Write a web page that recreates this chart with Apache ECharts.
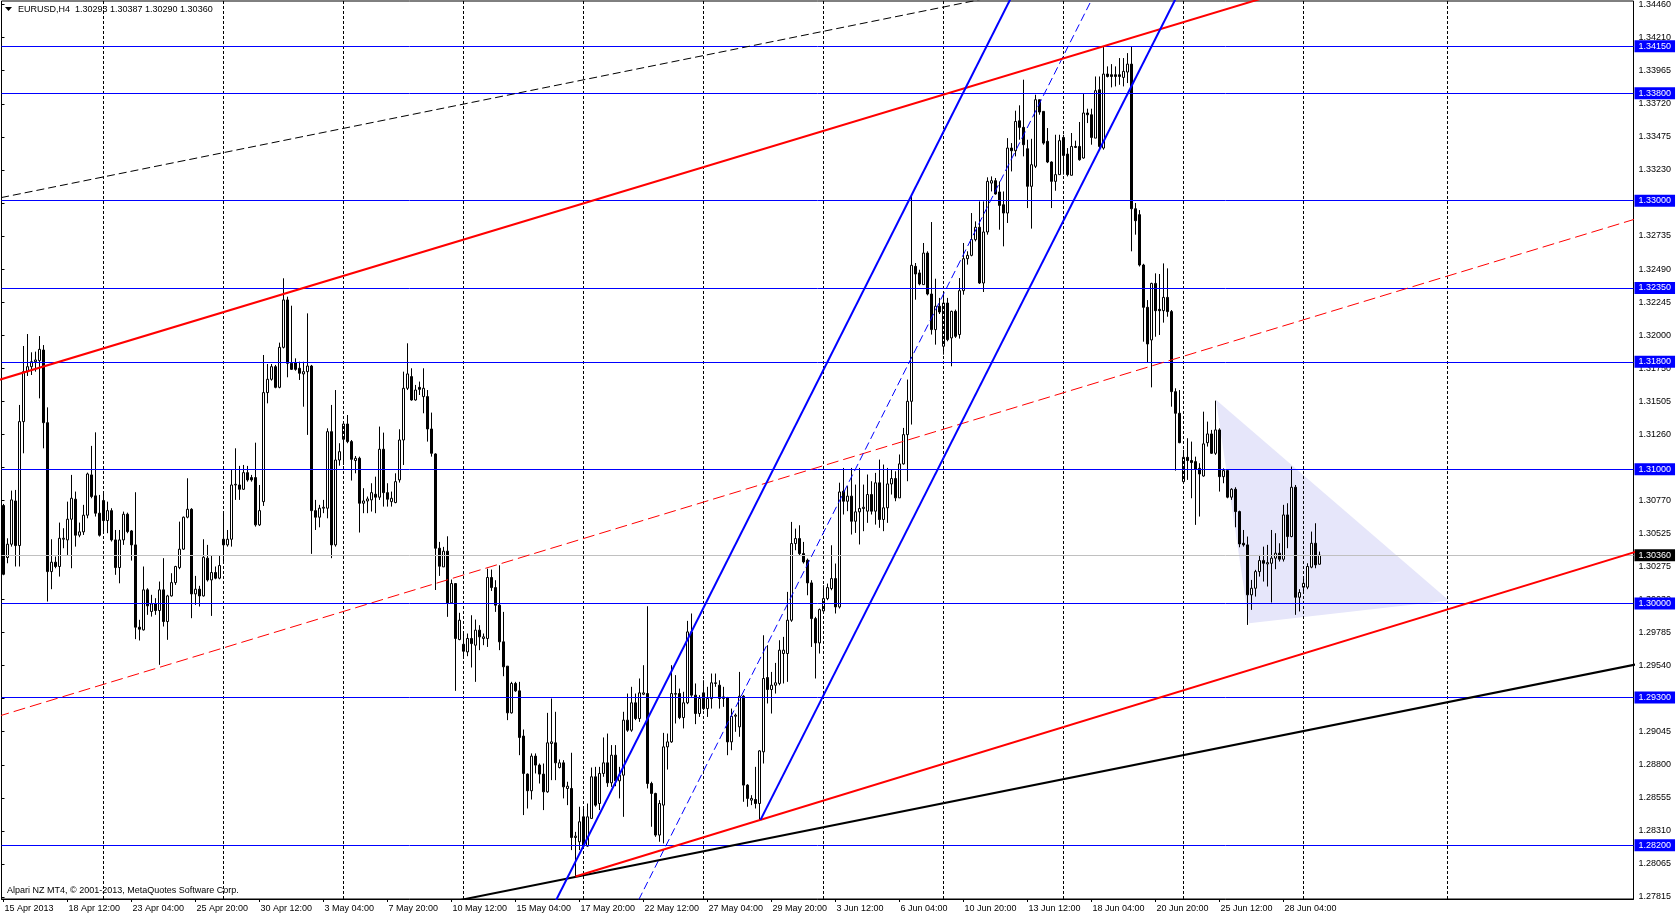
<!DOCTYPE html>
<html><head><meta charset="utf-8">
<script src="https://cdn.jsdelivr.net/npm/echarts@6/dist/echarts.min.js"></script>
<style>html,body{margin:0;padding:0;background:#fff;overflow:hidden}#c{width:1676px;height:917px}</style>
</head><body><div id="c"></div>
<script>
// ---------- data ----------
const symbolName = 'EURUSD,H4';
const copyrightText = 'Alpari NZ MT4, \u00a9 2001-2013, MetaQuotes Software Corp.';

const opens = [
1.30730,1.30343,1.30442,1.30764,1.30432,1.31355,1.31727,1.31764,1.31801,1.31809,
1.31888,1.31347,1.30238,1.30308,1.30276,1.30479,1.30474,1.30628,1.30777,1.30509,
1.30534,1.30658,1.30958,1.30802,1.30673,1.30767,1.30618,1.30692,1.30474,1.30268,
1.30474,1.30665,1.30541,1.30437,1.29824,1.29804,1.30102,1.29941,1.29998,1.29948,
1.30102,1.29866,1.30057,1.30156,1.30268,1.30405,1.30643,1.30702,1.30072,1.30107,
1.30057,1.30338,1.30176,1.30231,1.30189,1.30479,1.30437,1.30479,1.30883,1.30883,
1.30851,1.30975,1.30938,1.30938,1.30586,1.30759,1.31571,1.31670,1.31764,1.31610,
1.31908,1.32261,1.31789,1.31794,1.31752,1.31710,1.31727,1.31769,1.30692,1.30643,
1.30710,1.30710,1.31280,1.30437,1.31069,1.31223,1.31337,1.31206,1.31065,1.31082,
1.30747,1.30764,1.30772,1.30814,1.30792,1.31149,1.30826,1.30759,1.30752,1.30921,
1.31218,1.31603,1.31690,1.31516,1.31610,1.31541,1.31541,1.31300,1.31114,1.30412,
1.30273,1.30390,1.30005,1.30149,1.29732,1.29697,1.29640,1.29740,1.29690,1.29802,
1.29740,1.29740,1.30194,1.30119,1.29988,1.29715,1.29534,1.29186,1.29405,1.29350,
1.29013,1.28730,1.28606,1.28864,1.28797,1.28730,1.28598,1.28958,1.28963,1.28779,
1.28814,1.28623,1.28623,1.28258,1.28226,1.28412,1.28194,1.28400,1.28710,1.28511,
1.28735,1.28814,1.28665,1.28871,1.28680,1.28722,1.29132,1.29057,1.29261,1.29144,
1.29325,1.29330,1.28660,1.28586,1.28276,1.28499,1.28933,1.28970,1.29325,1.29330,
1.29151,1.29261,1.29789,1.29318,1.29181,1.29335,1.29218,1.29293,1.29405,1.29392,
1.29293,1.29300,1.28970,1.29161,1.29082,1.29310,1.28648,1.28536,1.28541,1.28511,
1.28896,1.29449,1.29360,1.29392,1.29405,1.29628,1.29628,1.29876,1.30447,1.30484,
1.30372,1.30323,1.30154,1.29888,1.29707,1.29945,1.30037,1.30112,1.30186,1.29975,
1.30837,1.30762,1.30800,1.30613,1.30683,1.30708,1.30688,1.30812,1.30688,1.30899,
1.30626,1.30713,1.30891,1.30931,1.30787,1.31040,1.31258,1.31506,1.32511,1.32462,
1.32375,1.32610,1.32305,1.32040,1.32214,1.31916,1.32238,1.31978,1.32176,1.32003,
1.32330,1.32568,1.32593,1.32710,1.32802,1.32387,1.32767,1.33131,1.33149,1.33065,
1.32970,1.32908,1.33392,1.33372,1.33595,1.33546,1.33387,1.33107,1.33256,1.33752,
1.33665,1.33442,1.33288,1.33144,1.33194,1.33471,1.33347,1.33189,1.33404,1.33404,
1.33318,1.33653,1.33640,1.33466,1.33826,1.33392,1.33943,1.33938,1.33938,1.33938,
1.33918,1.33958,1.34017,1.32940,1.32896,1.32521,1.32206,1.31963,1.32384,1.32191,
1.32181,1.32280,1.32174,1.31578,1.31417,1.30908,1.31089,1.31065,1.31057,1.31007,
1.30950,1.31198,1.31263,1.31119,1.31293,1.30945,1.30990,1.30792,1.30851,1.30685,
1.30449,1.30437,1.30065,1.30114,1.30238,1.30320,1.30295,1.30300,1.30338,1.30375,
1.30330,1.30660,1.30499,1.30866,1.30047,1.30122,1.30122,1.30271,1.30449,1.30293
];
const highs = [
1.30742,1.30486,1.30841,1.30846,1.31479,1.31918,1.32007,1.31871,1.31876,1.31992,
1.31925,1.31461,1.30479,1.30350,1.30603,1.30561,1.30759,1.30958,1.30834,1.30603,
1.30735,1.30975,1.31174,1.31275,1.30809,1.30834,1.30759,1.30710,1.30548,1.30548,
1.30685,1.30677,1.30548,1.30829,1.29879,1.30276,1.30114,1.30065,1.30040,1.30164,
1.30338,1.30065,1.30226,1.30281,1.30610,1.30648,1.30933,1.30710,1.30206,1.30132,
1.30479,1.30437,1.30355,1.30276,1.30355,1.30673,1.30548,1.30995,1.31156,1.31025,
1.31032,1.31025,1.30958,1.31198,1.30883,1.31851,1.31784,1.31784,1.31777,1.31943,
1.32422,1.32285,1.32218,1.31826,1.31801,1.31801,1.32161,1.31777,1.30772,1.30735,
1.30772,1.31305,1.31479,1.31590,1.31194,1.31355,1.31404,1.31218,1.31099,1.31094,
1.30859,1.30797,1.30896,1.30945,1.31318,1.31273,1.30896,1.30834,1.30970,1.31298,
1.31727,1.31938,1.31752,1.31628,1.31653,1.31752,1.31590,1.31422,1.31119,1.30459,
1.30422,1.30501,1.30179,1.30149,1.29931,1.29777,1.29777,1.29913,1.29881,1.29839,
1.29777,1.30260,1.30253,1.30174,1.30285,1.29938,1.29534,1.29417,1.29417,1.29417,
1.29062,1.28735,1.28884,1.28884,1.28809,1.28809,1.29186,1.29293,1.29194,1.28839,
1.28834,1.28673,1.28889,1.28300,1.28487,1.28487,1.28511,1.28779,1.28784,1.28784,
1.29003,1.29032,1.28946,1.28946,1.28784,1.29194,1.29330,1.29380,1.29330,1.29442,
1.29541,1.29980,1.28673,1.28591,1.28536,1.29037,1.29032,1.29541,1.29467,1.29367,
1.29343,1.29871,1.29926,1.29405,1.29318,1.29429,1.29380,1.29479,1.29479,1.29429,
1.29380,1.29305,1.29218,1.29181,1.29491,1.29318,1.28655,1.28573,1.28784,1.28908,
1.29764,1.29690,1.29491,1.29558,1.29727,1.29752,1.30087,1.30608,1.30558,1.30583,
1.30459,1.30335,1.30174,1.29901,1.29963,1.30136,1.30149,1.30434,1.30298,1.30900,
1.31010,1.30874,1.31010,1.30886,1.31010,1.30886,1.30961,1.30911,1.30973,1.31072,
1.31035,1.31010,1.30998,1.30985,1.31110,1.31308,1.31668,1.33045,1.32536,1.32486,
1.32685,1.32623,1.32841,1.32419,1.32276,1.32313,1.32276,1.32181,1.32189,1.32424,
1.32685,1.32623,1.32908,1.32846,1.32995,1.32995,1.33174,1.33181,1.33169,1.33144,
1.33069,1.33466,1.33429,1.33670,1.33710,1.33901,1.33454,1.33461,1.33789,1.33752,
1.33665,1.33541,1.33293,1.33491,1.33491,1.33491,1.33392,1.33504,1.33447,1.33586,
1.33794,1.33685,1.33685,1.33925,1.33925,1.34149,1.34000,1.34017,1.34000,1.34062,
1.34062,1.34099,1.34149,1.32983,1.32930,1.32530,1.32260,1.32389,1.32459,1.32454,
1.32533,1.32496,1.32186,1.31603,1.31590,1.31144,1.31231,1.31206,1.31094,1.31045,
1.31429,1.31355,1.31293,1.31511,1.31305,1.31007,1.31000,1.30859,1.30866,1.30692,
1.30548,1.30499,1.30176,1.30251,1.30362,1.30424,1.30437,1.30548,1.30524,1.30449,
1.30735,1.30747,1.31020,1.30883,1.30107,1.30201,1.30300,1.30536,1.30598,1.30387
];
const lows = [
1.30211,1.30300,1.30424,1.30276,1.30276,1.31119,1.31695,1.31702,1.31727,1.31528,
1.31156,1.30015,1.30107,1.30263,1.30201,1.30412,1.30362,1.30263,1.30424,1.30494,
1.30511,1.30635,1.30784,1.30648,1.30499,1.30524,1.30524,1.30462,1.30214,1.30151,
1.30437,1.30524,1.30320,1.29735,1.29725,1.29799,1.29916,1.29903,1.29916,1.29544,
1.29829,1.29730,1.30052,1.30139,1.30256,1.30400,1.30635,1.29891,1.29990,1.29978,
1.30052,1.30164,1.29908,1.30181,1.30181,1.30313,1.30424,1.30424,1.30772,1.30772,
1.30846,1.30908,1.30908,1.30573,1.30578,1.30727,1.31491,1.31660,1.31603,1.31603,
1.31900,1.31685,1.31739,1.31734,1.31665,1.31466,1.31256,1.30370,1.30548,1.30568,
1.30673,1.30635,1.30338,1.30424,1.31027,1.31032,1.31194,1.30916,1.30970,1.30529,
1.30673,1.30673,1.30685,1.30673,1.30772,1.30722,1.30722,1.30722,1.30747,1.30901,
1.31032,1.31590,1.31511,1.31511,1.31553,1.31417,1.31206,1.31094,1.30101,1.30206,
1.30273,1.29901,1.30000,1.29350,1.29727,1.29591,1.29608,1.29524,1.29417,1.29653,
1.29690,1.29677,1.30094,1.29938,1.29653,1.29459,1.29132,1.29181,1.29343,1.28871,
1.28425,1.28474,1.28541,1.28735,1.28660,1.28462,1.28591,1.28685,1.28685,1.28772,
1.28549,1.28499,1.28164,1.27967,1.28164,1.28176,1.28189,1.28400,1.28487,1.28462,
1.28710,1.28635,1.28635,1.28640,1.28549,1.28412,1.29045,1.29045,1.29132,1.29119,
1.29318,1.28623,1.28338,1.28263,1.28226,1.28214,1.28764,1.28963,1.29107,1.29139,
1.29070,1.29251,1.29305,1.29102,1.29156,1.29206,1.29156,1.29218,1.29380,1.29218,
1.29231,1.28871,1.28908,1.29045,1.29008,1.28524,1.28487,1.28499,1.28474,1.28389,
1.28809,1.29256,1.29181,1.29330,1.29392,1.29405,1.29417,1.29864,1.30397,1.30360,
1.30298,1.30062,1.29677,1.29442,1.29628,1.29938,1.30025,1.30099,1.29926,1.29963,
1.30663,1.30688,1.30514,1.30526,1.30440,1.30539,1.30601,1.30663,1.30588,1.30564,
1.30539,1.30601,1.30812,1.30762,1.30787,1.31035,1.30911,1.31333,1.32263,1.32370,
1.32375,1.32295,1.32003,1.31928,1.32156,1.31854,1.31953,1.31767,1.31978,1.31973,
1.32300,1.32524,1.32586,1.32697,1.32380,1.32320,1.32747,1.33069,1.33045,1.32784,
1.32660,1.32834,1.33218,1.33330,1.33454,1.33330,1.32945,1.32792,1.33243,1.33640,
1.33417,1.33280,1.32945,1.33074,1.33194,1.33194,1.33181,1.33189,1.33392,1.33298,
1.33313,1.33578,1.33417,1.33466,1.33392,1.33380,1.33918,1.33844,1.33851,1.33863,
1.33851,1.33876,1.32623,1.32747,1.32510,1.31950,1.31794,1.31610,1.31987,1.32000,
1.32092,1.32136,1.31466,1.30990,1.31194,1.30896,1.30921,1.30784,1.30586,1.30648,
1.30945,1.31169,1.31114,1.31107,1.30834,1.30896,1.30784,1.30772,1.30568,1.30419,
1.30424,1.29841,1.29953,1.30052,1.30201,1.30164,1.30127,1.30008,1.30256,1.30313,
1.30313,1.30412,1.30494,1.29916,1.29941,1.30090,1.30107,1.30263,1.30263,1.30290
];
const closes = [
1.30218,1.30442,1.30772,1.30432,1.31355,1.31727,1.31764,1.31801,1.31814,1.31893,
1.31347,1.30238,1.30308,1.30276,1.30486,1.30486,1.30628,1.30784,1.30509,1.30534,
1.30658,1.30965,1.30797,1.30673,1.30509,1.30618,1.30692,1.30474,1.30268,1.30474,
1.30665,1.30536,1.30437,1.29824,1.29809,1.30102,1.29983,1.29998,1.29948,1.30102,
1.29866,1.30057,1.30156,1.30276,1.30405,1.30643,1.30702,1.30072,1.30107,1.30057,
1.30345,1.30176,1.30231,1.30189,1.30283,1.30437,1.30479,1.30883,1.30888,1.30851,
1.30975,1.30921,1.30921,1.30586,1.30692,1.31571,1.31670,1.31764,1.31610,1.31908,
1.32261,1.31789,1.31744,1.31744,1.31715,1.31727,1.31769,1.30692,1.30643,1.30710,
1.30717,1.31280,1.30437,1.31069,1.31131,1.31337,1.31206,1.31074,1.31082,1.30747,
1.30764,1.30779,1.30826,1.30792,1.31149,1.30826,1.30777,1.30784,1.30908,1.31218,
1.31603,1.31710,1.31516,1.31590,1.31595,1.31603,1.31300,1.31119,1.30412,1.30278,
1.30390,1.30005,1.30149,1.29740,1.29876,1.29645,1.29740,1.29702,1.29802,1.29752,
1.29752,1.30194,1.30119,1.29988,1.29715,1.29529,1.29186,1.29405,1.29350,1.29003,
1.28735,1.28606,1.28864,1.28797,1.28730,1.28598,1.28963,1.28970,1.28814,1.28814,
1.28635,1.28640,1.28258,1.28268,1.28375,1.28194,1.28412,1.28710,1.28499,1.28735,
1.28814,1.28665,1.28871,1.28680,1.28722,1.29132,1.29057,1.29261,1.29144,1.29335,
1.29335,1.28660,1.28586,1.28276,1.28511,1.28933,1.28970,1.29330,1.29330,1.29151,
1.29261,1.29789,1.29318,1.29181,1.29293,1.29218,1.29293,1.29410,1.29410,1.29293,
1.29305,1.28970,1.29161,1.29169,1.29310,1.28648,1.28549,1.28549,1.28511,1.28903,
1.29442,1.29360,1.29392,1.29410,1.29653,1.29653,1.29876,1.30447,1.30484,1.30372,
1.30310,1.30154,1.29888,1.29707,1.29955,1.30037,1.30119,1.30186,1.29975,1.30831,
1.30762,1.30800,1.30613,1.30683,1.30708,1.30717,1.30812,1.30688,1.30899,1.30626,
1.30713,1.30891,1.30931,1.30787,1.31040,1.31258,1.31506,1.32519,1.32454,1.32380,
1.32610,1.32305,1.32040,1.32214,1.32171,1.32238,1.31965,1.32176,1.31990,1.32330,
1.32568,1.32593,1.32710,1.32802,1.32387,1.32767,1.33144,1.33149,1.33050,1.32965,
1.32908,1.33392,1.33372,1.33590,1.33546,1.33417,1.33107,1.33268,1.33752,1.33660,
1.33429,1.33288,1.33144,1.33194,1.33447,1.33337,1.33194,1.33404,1.33397,1.33305,
1.33653,1.33640,1.33471,1.33819,1.33404,1.33943,1.33925,1.33925,1.33925,1.33925,
1.33963,1.34017,1.32940,1.32851,1.32521,1.32206,1.31933,1.32384,1.32181,1.32181,
1.32280,1.32174,1.31578,1.31417,1.31198,1.31089,1.31065,1.31050,1.31000,1.30965,
1.31189,1.31263,1.31119,1.31293,1.30945,1.30990,1.30792,1.30851,1.30685,1.30444,
1.30437,1.30065,1.30114,1.30238,1.30320,1.30300,1.30305,1.30338,1.30375,1.30330,
1.30660,1.30499,1.30866,1.30047,1.30082,1.30151,1.30276,1.30449,1.30288,1.30360
];

// time axis labels, one every 16 H4 bars starting at bar 0
const timeLabels = ['15 Apr 2013','18 Apr 12:00','23 Apr 04:00','25 Apr 20:00','30 Apr 12:00','3 May 04:00',
  '7 May 20:00','10 May 12:00','15 May 04:00','17 May 20:00','22 May 12:00','27 May 04:00','29 May 20:00',
  '3 Jun 12:00','6 Jun 04:00','10 Jun 20:00','13 Jun 12:00','18 Jun 04:00','20 Jun 20:00','25 Jun 12:00','28 Jun 04:00'];
const labelEvery = 16;
// price scale tick labels (bottom to top)
const priceTicks = ['1.27815','1.28065','1.28310','1.28555','1.28800','1.29045','1.29295','1.29540','1.29785',
  '1.30030','1.30275','1.30525','1.30770','1.31015','1.31260','1.31505','1.31750','1.32000','1.32245','1.32490',
  '1.32735','1.32985','1.33230','1.33475','1.33720','1.33965','1.34210','1.34460'];
const priceMin = 1.27800, priceMax = 1.34487;   // visible price range of the chart window
const slotCount = 408;                           // bar slots incl. chart shift area

// horizontal levels and bid
const levels = [1.34150, 1.33800, 1.33000, 1.32350, 1.31800, 1.31000, 1.30000, 1.29300, 1.28200];
const bidPrice = 1.30360;
// week separators (bar index of Monday 00:00) and chart-shift grid line
const weekLines = [25, 55, 85, 115, 145, 175, 205, 235, 265, 295, 325, 361];

// trend line anchors [barIndex, price]
const redUpper    = [[0.1, 1.31676], [284.25, 1.34233]];
const redDashed   = [[13, 1.29290], [331.75, 1.32174]];
const redLower    = [[143, 1.27967], [189.25, 1.28389]];
const blackLower  = [[139.25, 1.27942], [407.5, 1.29543]];
const blackDashed = [[-0.75, 1.33022], [241.1, 1.34479]];
const blueLeft    = [[140.7, 1.27942], [247.2, 1.34234]];
const blueRight   = [[189.25, 1.28389], [284.25, 1.33986]];
const blueMid     = [[161.3, 1.27942], [267.6, 1.34234]];
// triangle object vertices [barIndex, price]
const triangle = [[303.1, 1.31518], [311.4, 1.29854], [361.35, 1.30022]];

// ---------- chart ----------
const W = 1676, H = 917;
const gridLeft = 1.5, gridRight = 42.5, gridTop = 1, gridBottom = 18;
const plotH = H - gridTop - gridBottom;
const yPix = p => gridTop + (priceMax - p) / (priceMax - priceMin) * plotH;
const tMin = parseFloat(priceTicks[0]), tMax = parseFloat(priceTicks[priceTicks.length - 1]);
const tInterval = (tMax - tMin) / (priceTicks.length - 1) + 1e-9;

const chart = echarts.init(document.getElementById('c'), null, {renderer: 'canvas', width: W, height: H});
const cats = Array.from({length: slotCount}, (_, i) => String(i));
const candleData = opens.map((o, i) => [o, closes[i], lows[i], highs[i]]);
const last = opens.length - 1;
const FONT = '"Liberation Sans", Arial, sans-serif';

function ray(a, b, mode) {
  const s = (b[1] - a[1]) / (b[0] - a[0]);
  const x0 = mode === 'both' ? -30 : a[0];
  const x1 = 440;
  return [[x0, a[1] + s * (x0 - a[0])], [x1, a[1] + s * (x1 - a[0])]];
}
function lineSeries(pts, mode, color, width, type, z) {
  return {type: 'line', xAxisIndex: 1, yAxisIndex: 0, data: ray(pts[0], pts[1], mode),
    showSymbol: false, symbol: 'none', silent: true, clip: true, z: z || 5, animation: false,
    lineStyle: {color, width, type}};
}
function levelLabel(text, bg) {
  return {show: true, position: 'end', distance: 1, formatter: () => text,
    backgroundColor: bg, color: '#fff', fontSize: 9, fontFamily: FONT, padding: [1, 4, 1, 4], lineHeight: 10};
}

const isLabelIdx = (i) => i % labelEvery === 0 && i / labelEvery < timeLabels.length;

const option = {
  animation: false,
  backgroundColor: '#ffffff',
  grid: [
    {left: gridLeft, right: gridRight, top: gridTop, bottom: gridBottom, show: true,
     borderColor: '#000', borderWidth: 1, backgroundColor: '#fff', containLabel: false},
    {left: gridLeft, right: gridRight, top: yPix(tMax), bottom: H - yPix(tMin), show: false, containLabel: false}
  ],
  xAxis: [
    {type: 'category', gridIndex: 0, data: cats, boundaryGap: true, position: 'bottom',
     axisLine: {show: true, lineStyle: {color: '#000', width: 1}},
     axisTick: {show: true, alignWithLabel: true, interval: (i) => isLabelIdx(i), length: 3, lineStyle: {color: '#000'}},
     axisLabel: {show: true, interval: (i) => isLabelIdx(i), align: 'left', margin: 5, padding: [0, 0, 0, 1],
       color: '#000', fontSize: 9, fontFamily: FONT,
       formatter: (v, i) => timeLabels[Math.round(i / labelEvery)] || ''},
     splitLine: {show: false}},
    {type: 'value', gridIndex: 0, min: -0.5, max: slotCount - 0.5, show: false},
    {type: 'value', gridIndex: 1, min: 0, max: 1, show: false}
  ],
  yAxis: [
    {type: 'value', gridIndex: 0, min: priceMin, max: priceMax, position: 'right',
     axisLine: {show: false}, axisTick: {show: false}, axisLabel: {show: false}, splitLine: {show: false}},
    {type: 'value', gridIndex: 1, min: tMin, max: tMax, interval: tInterval, position: 'right',
     axisLine: {show: false},
     axisTick: {show: true, inside: false, length: 3, lineStyle: {color: '#000'}},
     axisLabel: {show: true, margin: 5, color: '#000', fontSize: 9, fontFamily: FONT,
       showMinLabel: true, showMaxLabel: true,
       formatter: (v) => priceTicks[Math.round((v - tMin) / tInterval)] || ''},
     splitLine: {show: false}}
  ],
  graphic: [
    {type: 'polygon', shape: {points: [[5, 7], [12, 7], [8.5, 11]]}, style: {fill: '#000'}, z: 100},
    {type: 'text', left: 18, top: 5, z: 100,
     style: {text: symbolName + '  ' + [opens[last], highs[last], lows[last], closes[last]].map(v => v.toFixed(5)).join(' '),
       fill: '#000', font: '9px ' + FONT}},
    {type: 'text', left: 7, top: 886, z: 100,
     style: {text: copyrightText, fill: '#000', font: '9px ' + FONT}}
  ],
  series: [
    {type: 'custom', xAxisIndex: 1, yAxisIndex: 0, data: triangle, encode: {x: 0, y: 1}, z: 1, silent: true,
     renderItem: (params, api) => {
       if (params.dataIndex !== 0) return null;
       return {type: 'polygon', shape: {points: triangle.map(p => api.coord(p))},
         style: {fill: '#E6E6FA', stroke: null}};
     }},
    {type: 'line', xAxisIndex: 1, yAxisIndex: 0, data: [], z: 2, silent: true,
     markLine: {silent: true, symbol: ['none', 'none'], animation: false, precision: 6, label: {show: false},
       lineStyle: {color: '#000', width: 1, type: [3, 2]},
       data: weekLines.map(v => ({xAxis: v}))}},
    {type: 'candlestick', xAxisIndex: 0, yAxisIndex: 0, data: candleData, barWidth: 2, z: 3, silent: true,
     itemStyle: {color: '#ffffff', color0: '#000000', borderColor: '#000000', borderColor0: '#000000',
       borderColorDoji: '#000000', borderWidth: 1}},
    {type: 'line', xAxisIndex: 1, yAxisIndex: 0, data: [], z: 4, silent: true,
     markLine: {silent: true, symbol: ['none', 'none'], animation: false, precision: 6,
       data: levels.map(v => ({yAxis: v, lineStyle: {color: '#0000ff', width: 1, type: 'solid'},
           label: levelLabel(v.toFixed(5), '#0000ff')}))
         .concat([{yAxis: bidPrice, lineStyle: {color: '#c0c0c0', width: 1, type: 'solid'},
           label: levelLabel(bidPrice.toFixed(5), '#000000')}])}},
    lineSeries(redDashed, 'both', '#ff0000', 1, [12, 5]),
    lineSeries(blackDashed, 'both', '#000000', 1, [8, 4]),
    lineSeries(blueMid, 'both', '#0000ff', 1, [8, 4]),
    lineSeries(blackLower, 'both', '#000000', 2, 'solid'),
    lineSeries(redUpper, 'both', '#ff0000', 2, 'solid'),
    lineSeries(redLower, 'right', '#ff0000', 2, 'solid'),
    lineSeries(blueLeft, 'both', '#0000ff', 2, 'solid'),
    lineSeries(blueRight, 'right', '#0000ff', 2, 'solid')
  ]
};
chart.setOption(option);
</script>
</body></html>
